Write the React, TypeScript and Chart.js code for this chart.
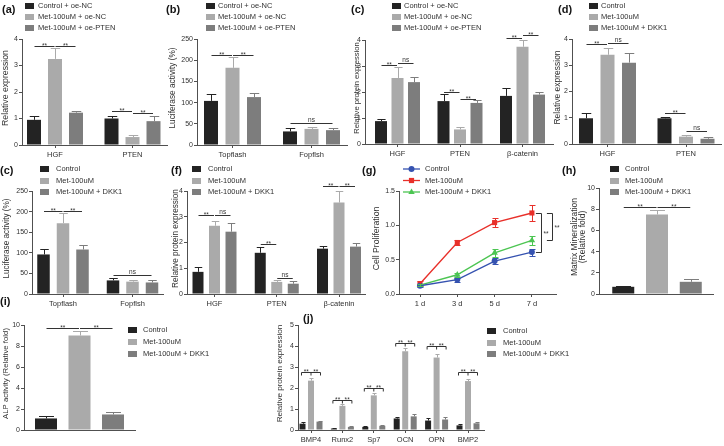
import React, { useEffect, useRef } from 'react';
import { Chart, registerables } from 'chart.js';
Chart.register(...registerables);

const FONT = '"Liberation Sans", Arial, Helvetica, sans-serif';
const AX = '#505050';
const TXT = '#303030';
const COL_CTRL = '#232323';
const COL_MET = '#aaaaaa';
const COL_THIRD = '#7d7d7d';
const COL_BLUE = '#3552b0';
const COL_RED = '#e8302a';
const COL_GREEN = '#4cc552';

// ---------------- DATA ----------------
const legendPTEN = ['Control + oe-NC', 'Met-100uM + oe-NC', 'Met-100uM + oe-PTEN'];
const legendDKK = ['Control', 'Met-100uM', 'Met-100uM + DKK1'];

// (a)
const aCategories = ['HGF', 'PTEN'];
const aControl = [0.95, 1.0];
const aControlErr = [0.15, 0.1];
const aMet = [3.25, 0.3];
const aMetErr = [0.4, 0.08];
const aPten = [1.22, 0.9];
const aPtenErr = [0.08, 0.18];
const aSig = [
  { cat: 0, a: 0, b: 1, y: 3.75, text: '**' },
  { cat: 0, a: 1, b: 2, y: 3.75, text: '**' },
  { cat: 1, a: 0, b: 1, y: 1.27, text: '**' },
  { cat: 1, a: 1, b: 2, y: 1.22, text: '**' },
];

// (b)
const bCategories = ['Topflash', 'Fopflsh'];
const bControl = [104, 32];
const bControlErr = [16, 8];
const bMet = [182, 38];
const bMetErr = [25, 4];
const bPten = [113, 35];
const bPtenErr = [10, 6];
const bSig = [
  { cat: 0, a: 0, b: 1, y: 213, text: '**' },
  { cat: 0, a: 1, b: 2, y: 213, text: '**' },
  { cat: 1, a: 0, b: 2, y: 52, text: 'ns' },
];

// (c) top
const cCategories = ['HGF', 'PTEN', 'β-catenin'];
const cControl = [0.88, 1.65, 1.85];
const cControlErr = [0.1, 0.27, 0.3];
const cMet = [2.54, 0.56, 3.74];
const cMetErr = [0.42, 0.1, 0.26];
const cPten = [2.38, 1.58, 1.9];
const cPtenErr = [0.18, 0.12, 0.1];
const cSig = [
  { cat: 0, a: 0, b: 1, y: 3.04, text: '**' },
  { cat: 0, a: 1, b: 2, y: 3.1, text: 'ns' },
  { cat: 1, a: 0, b: 1, y: 2.0, text: '**' },
  { cat: 1, a: 1, b: 2, y: 1.75, text: '**' },
  { cat: 2, a: 0, b: 1, y: 4.08, text: '**' },
  { cat: 2, a: 1, b: 2, y: 4.2, text: '**' },
];

// (d)
const dCategories = ['HGF', 'PTEN'];
const dControl = [0.98, 0.98];
const dControlErr = [0.2, 0.05];
const dMet = [3.4, 0.28];
const dMetErr = [0.25, 0.08];
const dDkk = [3.1, 0.2];
const dDkkErr = [0.38, 0.07];
const dSig = [
  { cat: 0, a: 0, b: 1, y: 3.8, text: '**' },
  { cat: 0, a: 1, b: 2, y: 3.85, text: 'ns' },
  { cat: 1, a: 0, b: 1, y: 1.18, text: '**' },
  { cat: 1, a: 1, b: 2, y: 0.48, text: 'ns' },
];

// (c) second row
const c2Categories = ['Topflash', 'Fopflsh'];
const c2Control = [96, 33];
const c2ControlErr = [14, 5];
const c2Met = [172, 30];
const c2MetErr = [24, 3];
const c2Dkk = [108, 28];
const c2DkkErr = [10, 7];
const c2Sig = [
  { cat: 0, a: 0, b: 1, y: 201, text: '**' },
  { cat: 0, a: 1, b: 2, y: 201, text: '**' },
  { cat: 1, a: 0, b: 2, y: 46, text: 'ns' },
];

// (f)
const fCategories = ['HGF', 'PTEN', 'β-catenin'];
const fControl = [0.86, 1.6, 1.76];
const fControlErr = [0.19, 0.24, 0.12];
const fMet = [2.65, 0.47, 3.55];
const fMetErr = [0.2, 0.08, 0.45];
const fDkk = [2.42, 0.4, 1.84];
const fDkkErr = [0.35, 0.1, 0.13];
const fSig = [
  { cat: 0, a: 0, b: 1, y: 3.05, text: '**' },
  { cat: 0, a: 1, b: 2, y: 3.08, text: 'ns' },
  { cat: 1, a: 0, b: 1, y: 1.95, text: '**' },
  { cat: 1, a: 1, b: 2, y: 0.62, text: 'ns' },
  { cat: 2, a: 0, b: 1, y: 4.18, text: '**' },
  { cat: 2, a: 1, b: 2, y: 4.2, text: '**' },
];

// (g)
const gCategories = ['1 d', '3 d', '5 d', '7 d'];
const gControl = [0.12, 0.21, 0.48, 0.61];
const gControlErr = [0.02, 0.03, 0.04, 0.05];
const gMet = [0.15, 0.75, 1.04, 1.18];
const gMetErr = [0.04, 0.03, 0.07, 0.12];
const gDkk = [0.13, 0.28, 0.6, 0.78];
const gDkkErr = [0.02, 0.03, 0.06, 0.06];

// (h)
const hCategories: string[] = [];
const hControl = [0.68];
const hControlErr = [0.12];
const hMet = [7.5];
const hMetErr = [0.4];
const hDkk = [1.15];
const hDkkErr = [0.25];
const hSig = [
  { cat: 0, a: 0, b: 1, y: 8.2, text: '**' },
  { cat: 0, a: 1, b: 2, y: 8.2, text: '**' },
];

// (i)
const iCategories: string[] = [];
const iControl = [1.1];
const iControlErr = [0.25];
const iMet = [9.0];
const iMetErr = [0.4];
const iDkk = [1.48];
const iDkkErr = [0.22];
const iSig = [
  { cat: 0, a: 0, b: 1, y: 9.7, text: '**' },
  { cat: 0, a: 1, b: 2, y: 9.7, text: '**' },
];

// (j)
const jCategories = ['BMP4', 'Runx2', 'Sp7', 'OCN', 'OPN', 'BMP2'];
const jControl = [0.3, 0.07, 0.15, 0.55, 0.45, 0.22];
const jControlErr = [0.06, 0.03, 0.04, 0.08, 0.1, 0.06];
const jMet = [2.35, 1.15, 1.65, 3.75, 3.45, 2.33];
const jMetErr = [0.15, 0.1, 0.12, 0.15, 0.17, 0.12];
const jDkk = [0.4, 0.15, 0.2, 0.65, 0.5, 0.32];
const jDkkErr = [0.05, 0.03, 0.04, 0.1, 0.1, 0.06];
const jBracket = [2.76, 1.43, 2.0, 4.14, 4.0, 2.76];

// ---------------- LAYOUT / BUILDERS ----------------
const three = (labels: string[], v0: number[], e0: number[], v1: number[], e1: number[], v2: number[], e2: number[], cols = [COL_CTRL, COL_MET, COL_THIRD]) => [
  { label: labels[0], color: cols[0], values: v0, errors: e0 },
  { label: labels[1], color: cols[1], values: v1, errors: e1 },
  { label: labels[2], color: cols[2], values: v2, errors: e2 },
];

const specs: any[] = [
  {
    key: 'a', kind: 'bar', letter: '(a)', letterX: 2, letterY: 10,
    box: { x: 0, y: 0, w: 185, h: 165 }, plot: { l: 22, t: 39, r: 167, b: 145 },
    c0: 55, d: 77.5, stride: 21, barW: 14, categories: aCategories,
    series: three(legendPTEN, aControl, aControlErr, aMet, aMetErr, aPten, aPtenErr),
    yMax: 4, yStep: 1, title: ['Relative expression'], titleX: 6, titleSize: 8.7,
    legend: { x: 25, tx: 38, y: 6, dy: 11 }, sigs: aSig,
  },
  {
    key: 'b', kind: 'bar', letter: '(b)', letterX: 166, letterY: 10,
    box: { x: 160, y: 0, w: 190, h: 165 }, plot: { l: 197, t: 39, r: 347, b: 145 },
    c0: 232.5, d: 79, stride: 21.5, barW: 14, categories: bCategories,
    series: three(legendPTEN, bControl, bControlErr, bMet, bMetErr, bPten, bPtenErr),
    yMax: 250, yStep: 50, title: ['Luciferase activity (%)'], titleX: 173, titleSize: 8.3,
    legend: { x: 206, tx: 218, y: 6, dy: 11 }, sigs: bSig,
  },
  {
    key: 'c', kind: 'bar', letter: '(c)', letterX: 351, letterY: 10,
    box: { x: 345, y: 0, w: 211, h: 165 }, plot: { l: 365, t: 40, r: 553, b: 144 },
    c0: 397.5, d: 62.5, stride: 16.5, barW: 12, categories: cCategories,
    series: three(legendPTEN, cControl, cControlErr, cMet, cMetErr, cPten, cPtenErr),
    yMax: 4, yStep: 1, title: ['Relative protein expression'], titleX: 356.5, titleSize: 7.6,
    legend: { x: 392, tx: 404, y: 6, dy: 11 }, sigs: cSig,
  },
  {
    key: 'd', kind: 'bar', letter: '(d)', letterX: 558, letterY: 10,
    box: { x: 550, y: 0, w: 174, h: 165 }, plot: { l: 572, t: 39, r: 721, b: 144 },
    c0: 607.5, d: 78.5, stride: 21.5, barW: 14, categories: dCategories,
    series: three(legendDKK, dControl, dControlErr, dMet, dMetErr, dDkk, dDkkErr),
    yMax: 4, yStep: 1, title: ['Relative expression'], titleX: 558, titleSize: 8.5,
    legend: { x: 589, tx: 601, y: 6, dy: 11 }, sigs: dSig,
  },
  {
    key: 'c2', kind: 'bar', letter: '(c)', letterX: 0, letterY: 171,
    box: { x: 0, y: 160, w: 170, h: 150 }, plot: { l: 32, t: 191, r: 163, b: 294 },
    c0: 63, d: 69.5, stride: 19.5, barW: 12.5, categories: c2Categories,
    series: three(legendDKK, c2Control, c2ControlErr, c2Met, c2MetErr, c2Dkk, c2DkkErr),
    yMax: 250, yStep: 50, title: ['Luciferase activity (%)'], titleX: 7, titleSize: 8.2,
    legend: { x: 40, tx: 56, y: 169, dy: 11.5 }, sigs: c2Sig,
  },
  {
    key: 'f', kind: 'bar', letter: '(f)', letterX: 171, letterY: 171,
    box: { x: 165, y: 160, w: 205, h: 150 }, plot: { l: 187, t: 191, r: 365, b: 294 },
    c0: 214.5, d: 62.25, stride: 16.5, barW: 11, categories: fCategories,
    series: three(legendDKK, fControl, fControlErr, fMet, fMetErr, fDkk, fDkkErr),
    yMax: 4, yStep: 1, title: ['Relative protein expression'], titleX: 176, titleSize: 8.2,
    legend: { x: 192, tx: 208, y: 169, dy: 11.5 }, sigs: fSig,
  },
  {
    key: 'g', kind: 'line', letter: '(g)', letterX: 362, letterY: 171,
    box: { x: 355, y: 160, w: 210, h: 150 }, plot: { l: 399, t: 191, r: 556, b: 294 },
    c0: 420, d: 37.3, categories: gCategories,
    series: three(legendDKK, gControl, gControlErr, gMet, gMetErr, gDkk, gDkkErr, [COL_BLUE, COL_RED, COL_GREEN]),
    yMax: 1.5, yStep: 0.5, yFixed: 1, title: ['Cell Proliferation'], titleX: 377, titleSize: 8.7,
    legend: { x: 403, tx: 425, y: 169, dy: 11.5 }, sigs: [],
  },
  {
    key: 'h', kind: 'bar', letter: '(h)', letterX: 562, letterY: 171,
    box: { x: 560, y: 160, w: 164, h: 150 }, plot: { l: 599, t: 188, r: 713, b: 294 },
    c0: 657, d: 114, stride: 33.75, barW: 22, categories: hCategories,
    series: three(legendDKK, hControl, hControlErr, hMet, hMetErr, hDkk, hDkkErr),
    yMax: 10, yStep: 2, title: ['Matrix Mineralization', '(Relative fold)'], titleX: 574.5, titleLh: 8, titleSize: 8.5,
    legend: { x: 610, tx: 625, y: 169, dy: 11.5 }, sigs: hSig,
  },
  {
    key: 'i', kind: 'bar', letter: '(i)', letterX: 0, letterY: 302,
    box: { x: 0, y: 290, w: 225, h: 156 }, plot: { l: 24, t: 325, r: 135, b: 430 },
    c0: 79.5, d: 111, stride: 33.5, barW: 22, categories: iCategories,
    series: three(legendDKK, iControl, iControlErr, iMet, iMetErr, iDkk, iDkkErr),
    yMax: 10, yStep: 2, title: ['ALP activity (Relative fold)'], titleX: 5.5, titleSize: 7.8,
    legend: { x: 128, tx: 143, y: 330, dy: 12 }, sigs: iSig,
  },
  {
    key: 'j', kind: 'bar', letter: '(j)', letterX: 303, letterY: 319,
    box: { x: 270, y: 290, w: 454, h: 156 }, plot: { l: 298, t: 325, r: 484, b: 430 },
    c0: 311, d: 31.4, stride: 8.5, barW: 6, categories: jCategories,
    series: three(legendDKK, jControl, jControlErr, jMet, jMetErr, jDkk, jDkkErr),
    yMax: 5, yStep: 1, title: ['Relative protein expression'], titleX: 280, titleSize: 8.1,
    legend: { x: 487, tx: 503, y: 331, dy: 11.5 }, sigs: [], brackets: jBracket,
  },
];

const POINT_STYLES = ['circle', 'rect', 'triangle'];
const POINT_RADII = [3, 3.6, 3.8];

function drawMarker(ctx: any, style: string, x: number, y: number, color: string) {
  ctx.fillStyle = color;
  ctx.beginPath();
  if (style === 'circle') ctx.arc(x, y, 3, 0, Math.PI * 2);
  else if (style === 'rect') ctx.rect(x - 2.6, y - 2.6, 5.2, 5.2);
  else { ctx.moveTo(x, y - 3.6); ctx.lineTo(x + 3.2, y + 2); ctx.lineTo(x - 3.2, y + 2); ctx.closePath(); }
  ctx.fill();
}

function makeDeco(s: any) {
  const ox = s.box.x, oy = s.box.y;
  return {
    id: 'deco_' + s.key,
    afterDatasetsDraw(chart: any) {
      const ctx = chart.ctx; const ys = chart.scales.y;
      ctx.save();
      ctx.lineWidth = 1;
      s.series.forEach((se: any, di: number) => {
        const meta = chart.getDatasetMeta(di);
        meta.data.forEach((el: any, i: number) => {
          const x = Math.round(el.x) + 0.5;
          const v = se.values[i], e = se.errors[i];
          const yTop = Math.round(ys.getPixelForValue(v + e)) + 0.5;
          const yBot = s.kind === 'bar' ? ys.getPixelForValue(v) : Math.round(ys.getPixelForValue(v - e)) + 0.5;
          const cw = s.kind === 'bar' ? Math.max(2, el.width * 0.34) : 3;
          ctx.strokeStyle = se.color;
          ctx.beginPath();
          ctx.moveTo(x, yBot); ctx.lineTo(x, yTop);
          ctx.moveTo(x - cw, yTop); ctx.lineTo(x + cw, yTop);
          if (s.kind === 'line') { ctx.moveTo(x - cw, yBot); ctx.lineTo(x + cw, yBot); }
          ctx.stroke();
        });
      });
      ctx.restore();
    },
    afterDraw(chart: any) {
      const ctx = chart.ctx; const ys = chart.scales.y;
      const area = chart.chartArea;
      ctx.save();
      // panel letter
      ctx.font = `bold 11px ${FONT}`;
      ctx.fillStyle = '#151515';
      ctx.textAlign = 'left';
      ctx.textBaseline = 'middle';
      ctx.fillText(s.letter, s.letterX - ox, s.letterY - oy);
      // y-axis title (rotated)
      ctx.font = `${s.titleSize}px ${FONT}`;
      ctx.fillStyle = TXT;
      ctx.textAlign = 'center';
      const cy = (area.top + area.bottom) / 2 - 4;
      s.title.forEach((line: string, k: number) => {
        ctx.save();
        ctx.translate(s.titleX - ox + k * (s.titleLh || 9), cy);
        ctx.rotate(-Math.PI / 2);
        ctx.fillText(line, 0, 0);
        ctx.restore();
      });
      // legend
      ctx.font = `7.5px ${FONT}`;
      ctx.textAlign = 'left';
      s.series.forEach((se: any, i: number) => {
        const ly = s.legend.y + i * s.legend.dy - oy;
        if (s.kind === 'bar') {
          ctx.fillStyle = se.color;
          ctx.fillRect(s.legend.x - ox, Math.round(ly - 3), 9, 6);
        } else {
          const lx = s.legend.x - ox;
          ctx.strokeStyle = se.color; ctx.lineWidth = 1.3;
          ctx.beginPath(); ctx.moveTo(lx, ly); ctx.lineTo(lx + 17, ly); ctx.stroke();
          drawMarker(ctx, POINT_STYLES[i], lx + 8.5, ly, se.color);
        }
        ctx.fillStyle = TXT;
        ctx.textBaseline = 'middle';
        ctx.fillText(se.label, s.legend.tx - ox, ly);
      });
      // significance lines
      ctx.strokeStyle = '#333'; ctx.lineWidth = 1; ctx.fillStyle = '#333';
      ctx.font = `6.5px ${FONT}`; ctx.textAlign = 'center'; ctx.textBaseline = 'bottom';
      s.sigs.forEach((sg: any) => {
        const xa = chart.getDatasetMeta(sg.a).data[sg.cat].x;
        const xb = chart.getDatasetMeta(sg.b).data[sg.cat].x;
        const y = Math.round(ys.getPixelForValue(sg.y)) + 0.5;
        ctx.beginPath(); ctx.moveTo(xa + 0.5, y); ctx.lineTo(xb - 0.5, y); ctx.stroke();
        ctx.fillText(sg.text, (xa + xb) / 2, y + (sg.text === '**' ? 2.5 : -0.5));
      });
      // (j) brackets
      if (s.brackets) {
        s.brackets.forEach((lvl: number, i: number) => {
          const x0 = chart.getDatasetMeta(0).data[i].x - 1;
          const x1 = chart.getDatasetMeta(1).data[i].x;
          const x2 = chart.getDatasetMeta(2).data[i].x + 1;
          const y = Math.round(ys.getPixelForValue(lvl)) + 0.5;
          ctx.beginPath();
          ctx.moveTo(x0, y + 3); ctx.lineTo(x0, y); ctx.lineTo(x2, y); ctx.lineTo(x2, y + 3);
          ctx.moveTo(x1, y); ctx.lineTo(x1, y + 3);
          ctx.stroke();
          ctx.fillText('**', (x0 + x1) / 2, y + 2.5);
          ctx.fillText('**', (x1 + x2) / 2, y + 2.5);
        });
      }
      // (g) brackets at last time point
      if (s.kind === 'line') {
        const xs = chart.scales.x;
        const last = gCategories.length - 1;
        const xp = xs.getPixelForValue(last);
        const yMet = Math.round(ys.getPixelForValue(gMet[last])) + 0.5;
        const yCtrl = Math.round(ys.getPixelForValue(gControl[last])) + 0.5;
        const yDkk = Math.round(ys.getPixelForValue(gDkk[last])) + 0.5;
        const v1 = Math.round(xp + 9) + 0.5, v2 = Math.round(xp + 20) + 0.5;
        ctx.beginPath();
        ctx.moveTo(xp + 4, yMet); ctx.lineTo(v1, yMet); ctx.lineTo(v1, yCtrl); ctx.lineTo(xp + 4, yCtrl);
        ctx.moveTo(xp + 15, yMet); ctx.lineTo(v2, yMet); ctx.lineTo(v2, yDkk); ctx.lineTo(xp + 15, yDkk);
        ctx.stroke();
        ctx.textAlign = 'left'; ctx.textBaseline = 'middle';
        ctx.fillText('**', v1 + 2, (yMet + yCtrl) / 2 + 1.5);
        ctx.fillText('**', v2 + 2, (yMet + yDkk) / 2 + 1.5);
      }
      ctx.restore();
    },
  };
}

function makeConfig(s: any) {
  const n = s.series[0].values.length;
  const plotW = s.plot.r - s.plot.l;
  const unit = n > 1 ? s.d : plotW;
  const xmin = -(s.c0 - s.plot.l) / unit;
  const xmax = (s.plot.r - s.c0) / unit;
  const axisCommon = {
    grid: { display: true, drawOnChartArea: false, drawTicks: true, tickLength: 3, color: AX, lineWidth: 1, offset: false },
    border: { display: true, color: AX, width: 1 },
  };
  const scales: any = {
    x: {
      type: 'linear', min: xmin, max: xmax, bounds: 'data', offset: false,
      afterBuildTicks: (sc: any) => { sc.ticks = s.categories.map((_: string, i: number) => ({ value: i })); },
      afterFit: (sc: any) => { sc.height = s.box.y + s.box.h - s.plot.b; },
      ticks: {
        font: { family: FONT, size: 7.5 }, color: TXT, padding: 2, maxRotation: 0, minRotation: 0, autoSkip: false,
        callback: (v: number) => (s.categories[Math.round(v)] ?? ''),
      },
      ...axisCommon,
    },
    y: {
      type: 'linear', min: 0, max: s.yMax, bounds: 'data',
      afterBuildTicks: (sc: any) => {
        const t: any[] = [];
        for (let k = 0; k * s.yStep <= s.yMax + 1e-9; k++) t.push({ value: +(k * s.yStep).toFixed(6) });
        sc.ticks = t;
      },
      afterFit: (sc: any) => { sc.width = s.plot.l - s.box.x; },
      ticks: {
        font: { family: FONT, size: 7 }, color: TXT, padding: 1,
        callback: (v: number) => (s.yFixed ? v.toFixed(s.yFixed) : String(v)),
      },
      title: { display: false },
      ...axisCommon,
    },
  };
  const options: any = {
    animation: false, responsive: false, maintainAspectRatio: false, devicePixelRatio: 1,
    layout: { autoPadding: false, padding: { left: 0, top: s.plot.t - s.box.y, right: s.box.x + s.box.w - s.plot.r, bottom: 0 } },
    plugins: { legend: { display: false }, tooltip: { enabled: false }, title: { display: false } },
    scales,
  };
  if (s.kind === 'bar') {
    const rulerMin = n > 1 ? s.d : plotW;
    const catPct = (3 * s.stride) / rulerMin;
    const barPct = s.barW / s.stride;
    return {
      type: 'bar',
      data: {
        datasets: s.series.map((se: any) => ({
          label: se.label,
          data: se.values.map((v: number, i: number) => ({ x: i, y: v })),
          backgroundColor: se.color, borderWidth: 0,
          categoryPercentage: catPct, barPercentage: barPct,
        })),
      },
      options,
      plugins: [makeDeco(s)],
    };
  }
  return {
    type: 'line',
    data: {
      datasets: s.series.map((se: any, k: number) => ({
        label: se.label,
        data: se.values.map((v: number, i: number) => ({ x: i, y: v })),
        borderColor: se.color, backgroundColor: se.color,
        pointBackgroundColor: se.color, pointBorderColor: se.color, pointBorderWidth: 0,
        pointStyle: POINT_STYLES[k], pointRadius: POINT_RADII[k], borderWidth: 1.4, tension: 0, fill: false,
      })),
    },
    options,
    plugins: [makeDeco(s)],
  };
}

function Panel({ spec }: { spec: any }) {
  const ref = useRef<HTMLCanvasElement>(null);
  useEffect(() => {
    const chart = new Chart(ref.current as HTMLCanvasElement, makeConfig(spec) as any);
    return () => chart.destroy();
  }, [spec]);
  const b = spec.box;
  return (
    <canvas
      ref={ref}
      width={b.w}
      height={b.h}
      style={{ position: 'absolute', left: b.x, top: b.y, width: b.w, height: b.h }}
    />
  );
}

export default function App() {
  return (
    <div style={{ position: 'absolute', left: 0, top: 0, width: 724, height: 446, background: '#ffffff', overflow: 'hidden' }}>
      {specs.map((s) => <Panel key={s.key} spec={s} />)}
    </div>
  );
}
